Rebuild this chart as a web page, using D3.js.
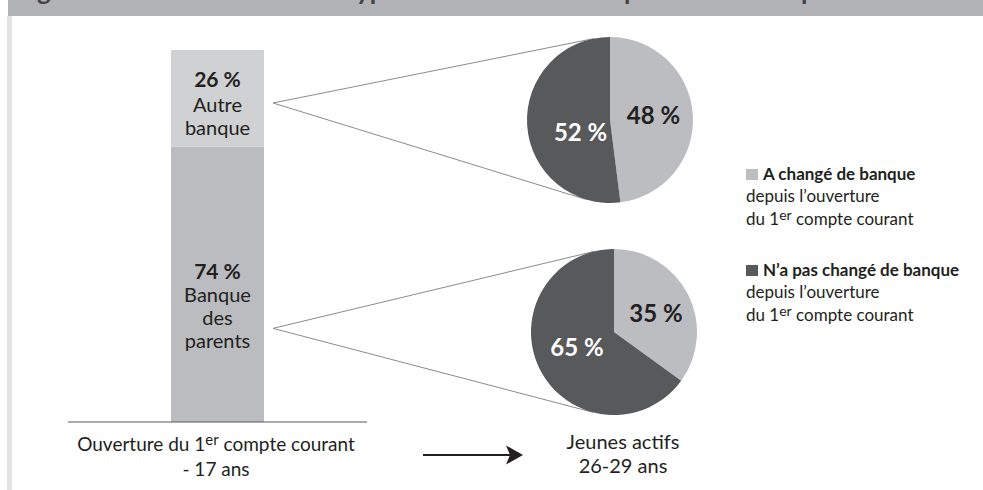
<!DOCTYPE html>
<html>
<head>
<meta charset="utf-8">
<script src="https://cdn.jsdelivr.net/npm/d3@7"></script>
<style>
  body { margin: 0; background: #fff; }
  svg text { font-family: Lato, "Open Sans", sans-serif; fill: #231f20; }
</style>
</head>
<body>
<div id="chart"></div>
<script>
// Barre : ouverture du 1er compte
const barSegments = ["Banque des parents", "Autre banque"];
const barValues = [74, 26];
const barLabels = [["Banque", "des", "parents"], ["Autre", "banque"]];

// Camemberts : jeunes actifs
const pieKeys = ["A changé de banque", "N'a pas changé de banque"];
const pieTop = [48, 52];     // issus d'une autre banque
const pieBottom = [35, 65];  // issus de la banque des parents

// Fragments du titre (coupé en haut de l'image)
const titleBits = [{t: "g", x: 37}, {t: "yp", x: 356}, {t: "p", x: 624}, {t: "p", x: 801}];

const W = 983, H = 490;
const colLight = "#bcbdc0", colDark = "#58595b";
const barCols = ["#bbbcbf", "#d0d1d3"];

const svg = d3.select("#chart").append("svg")
    .attr("width", W).attr("height", H);

// Bandeau du titre
svg.append("rect").attr("x", 8).attr("y", 0).attr("width", W - 8).attr("height", 16).attr("fill", "#b2b3b6");
svg.append("clipPath").attr("id", "clipT").append("rect").attr("x", 0).attr("y", 0).attr("width", W).attr("height", 16);
svg.append("g").attr("clip-path", "url(#clipT)")
    .selectAll("text").data(titleBits).enter().append("text")
    .attr("x", d => d.x).attr("y", 0)
    .style("font-size", "26px").style("font-weight", "bold").style("fill", "#444")
    .text(d => d.t);
svg.append("rect").attr("x", 7).attr("y", 16).attr("width", 5).attr("height", H - 16).attr("fill", "#e2e2e3");

// Echelle de la barre
const y = d3.scaleLinear().domain([0, 100]).range([422, 50]);
const barX = 171, barW = 93;

let acc = 0;
const stacked = barValues.map((v, i) => { const s = {v, i, y0: acc, y1: acc + v}; acc += v; return s; });

// Camemberts
const pies = [
  {values: pieTop, cx: 610, cy: 120, seg: 1, nudge: [[2, -2], [12, 10]]},
  {values: pieBottom, cx: 614, cy: 332, seg: 0, nudge: [[5, 0], [0, -3]]}
];
const r = 83;
const pie = d3.pie().sort(null).value(d => d);
const arc = d3.arc().innerRadius(0).outerRadius(r);
const labelArc = d3.arc().innerRadius(r * 0.5).outerRadius(r * 0.5);

// Lignes de liaison (tangentes)
pies.forEach(p => {
  const s = stacked[p.seg];
  const ax = barX + barW + 9;
  const ay = p.seg === 1 ? y(s.y1) + 53 : y((s.y0 + s.y1) / 2) + 44;
  const dx = p.cx - ax, dy = p.cy - ay;
  const d = Math.hypot(dx, dy);
  const base = Math.atan2(dy, dx), off = Math.asin(r / d), len = Math.sqrt(d * d - r * r);
  [base - off, base + off].forEach(a => {
    svg.append("line")
      .attr("x1", ax).attr("y1", ay)
      .attr("x2", ax + len * Math.cos(a)).attr("y2", ay + len * Math.sin(a))
      .attr("stroke", "#8a8b8d").attr("stroke-width", 1);
  });
});

// Barre empilée
svg.selectAll("rect.seg").data(stacked).enter().append("rect")
    .attr("class", "seg")
    .attr("x", barX).attr("width", barW)
    .attr("y", d => y(d.y1)).attr("height", d => y(d.y0) - y(d.y1))
    .attr("fill", d => barCols[d.i]);

// Textes de la barre
const bx = barX + barW / 2;
const tTop = svg.append("text").attr("text-anchor", "middle");
tTop.append("tspan").attr("x", bx).attr("y", 87).style("font-weight", "bold").style("font-size", "21px").text(barValues[1] + " %");
barLabels[1].forEach((l, i) => tTop.append("tspan").attr("x", bx).attr("y", 112 + i * 23).style("font-size", "20px").text(l));
const tBot = svg.append("text").attr("text-anchor", "middle");
tBot.append("tspan").attr("x", bx).attr("y", 279).style("font-weight", "bold").style("font-size", "21px").text(barValues[0] + " %");
barLabels[0].forEach((l, i) => tBot.append("tspan").attr("x", bx).attr("y", 302 + i * 23).style("font-size", "20px").text(l));

// Ligne de base
svg.append("line").attr("x1", 68).attr("x2", 367).attr("y1", y(0)).attr("y2", y(0))
    .attr("stroke", "#58595b").attr("stroke-width", 1);

pies.forEach(p => {
  const g = svg.append("g").attr("transform", `translate(${p.cx},${p.cy})`);
  const arcs = pie(p.values);
  g.selectAll("path").data(arcs).enter().append("path")
    .attr("d", arc)
    .attr("fill", (d, i) => i === 0 ? colLight : colDark);
  g.selectAll("text").data(arcs).enter().append("text")
    .attr("transform", (d, i) => {
      const c = labelArc.centroid(d);
      return `translate(${c[0] + p.nudge[i][0]},${c[1] + p.nudge[i][1]})`;
    })
    .attr("text-anchor", "middle").attr("dy", "0.35em")
    .style("font-size", "24px").style("font-weight", "bold")
    .style("fill", (d, i) => i === 0 ? "#231f20" : "#fff")
    .text(d => d.data + " %");
});

// Légende
const legend = [
  {key: pieKeys[0], col: colLight, y: 169},
  {key: pieKeys[1].replace("'", "\u2019"), col: colDark, y: 265}
];
legend.forEach(l => {
  svg.append("rect").attr("x", 746).attr("y", l.y).attr("width", 12).attr("height", 11).attr("fill", l.col);
  svg.append("text").attr("x", 763).attr("y", l.y + 11)
    .style("font-size", "17px").style("font-weight", "bold").text(l.key);
  svg.append("text").attr("x", 746).attr("y", l.y + 33).style("font-size", "17px").text("depuis l\u2019ouverture");
  const t = svg.append("text").attr("x", 746).attr("y", l.y + 56).style("font-size", "17px");
  t.append("tspan").text("du 1");
  t.append("tspan").attr("dy", -5).style("font-size", "14px").text("er");
  t.append("tspan").attr("dy", 5).text(" compte courant");
});

// Légendes des axes
const bl = svg.append("text").attr("text-anchor", "middle").style("font-size", "19px");
const l1 = bl.append("tspan").attr("x", 216).attr("y", 451);
l1.append("tspan").text("Ouverture du 1");
l1.append("tspan").attr("dy", -6).style("font-size", "15px").text("er");
l1.append("tspan").attr("dy", 6).text(" compte courant");
bl.append("tspan").attr("x", 216).attr("y", 476).text("- 17 ans");

const br = svg.append("text").attr("text-anchor", "middle").style("font-size", "20px");
br.append("tspan").attr("x", 623).attr("y", 449).text("Jeunes actifs");
br.append("tspan").attr("x", 623).attr("y", 473).text("26-29 ans");

// Flèche
svg.append("line").attr("x1", 423).attr("x2", 510).attr("y1", 455).attr("y2", 455)
    .attr("stroke", "#231f20").attr("stroke-width", 2);
svg.append("path").attr("d", d3.line()([[506, 445.5], [523, 455], [506, 464.5], [510, 455]]) + "Z")
    .attr("fill", "#231f20");
</script>
</body>
</html>
